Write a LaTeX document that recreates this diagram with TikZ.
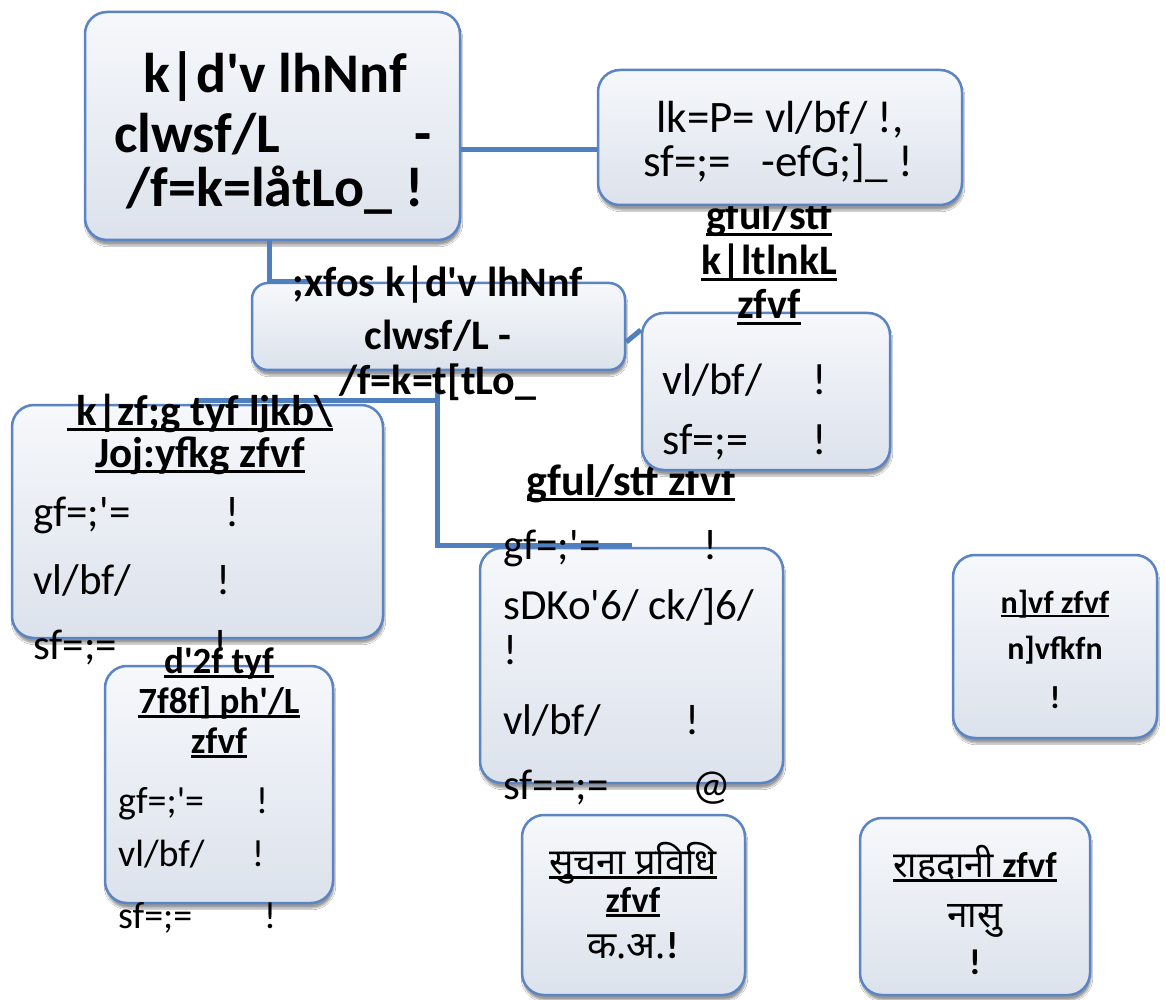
\documentclass[tikz,border=0pt]{standalone}
\usepackage{fontspec}
\newfontfamily\cf{Carlito}
\newfontfamily\deva[Script=Devanagari]{Noto Sans}
\usetikzlibrary{shadows.blur}
\definecolor{bord}{HTML}{5B84C4}
\definecolor{conncol}{HTML}{4F7FBE}
\definecolor{ftop}{HTML}{F6F8FB}
\definecolor{fbot}{HTML}{DCE2EC}
\newcommand\uln[1]{\setbox0\hbox{#1}\rlap{\rule[-0.14em]{\wd0}{0.08em}}\box0}
\tikzset{
  orgbox/.style={draw=bord, line width=2.5pt, rounded corners=22pt,
    top color=ftop, bottom color=fbot, inner sep=0pt,
    blur shadow={shadow xshift=1pt, shadow yshift=-5pt, shadow blur steps=6, shadow opacity=40}},
  conn/.style={draw=conncol, line width=5pt},
  hb/.style={font=\cf\bfseries\fontsize{#1}{#1}\selectfont, inner sep=0pt, anchor=base},
  btc/.style={font=\cf\fontsize{#1}{#1}\selectfont, inner sep=0pt, anchor=base},
  btl/.style={font=\cf\fontsize{#1}{#1}\selectfont, inner sep=0pt, anchor=base west},
}
\begin{document}
\begin{tikzpicture}[x=1pt,y=-1pt]
\fill[white] (0,0) rectangle (1165,1000);
\useasboundingbox (0,0) rectangle (1165,1000);
% boxes (z-order as in the reference)
\node[orgbox, minimum width=375pt, minimum height=228pt] (main) at (272.5,126) {};
\node[orgbox, minimum width=373pt, minimum height=87pt, rounded corners=16pt] (sec) at (438.5,326.5) {};
\node[orgbox, minimum width=371pt, minimum height=233pt] (left) at (197.5,521.5) {};
\node[orgbox, minimum width=228pt, minimum height=237pt] (b7) at (219,784.5) {};
\node[orgbox, minimum width=303pt, minimum height=235pt] (b6) at (631.5,665.5) {};
\node[hb=44] (g1) at (631,495) {\uln{gful/stf zfvf}};
\node[orgbox, minimum width=248pt, minimum height=157pt] (b4) at (766,391.5) {};
\node[hb=42] (p1) at (769,230) {\uln{gful/stf}};
\node[hb=42] (p2) at (769,275) {\uln{k|ltlnkL}};
\node[hb=42] (p3) at (769,319) {\uln{zfvf}};
\node[orgbox, minimum width=364pt, minimum height=135pt] (tr) at (780,137.5) {};
\node[orgbox, minimum width=223pt, minimum height=180pt] (b8) at (633.5,905) {};
\node[orgbox, minimum width=204pt, minimum height=183pt] (b9) at (1055,646.5) {};
\node[orgbox, minimum width=230pt, minimum height=177pt] (b10) at (975,906.5) {};
% helper coordinates
\coordinate (ya) at (0,150);
\coordinate (xa) at (269,0);
\coordinate (xb) at (310,0);
\coordinate (yb) at (0,342);
\coordinate (yc) at (0,330);
\coordinate (yd) at (0,545);
\coordinate (j) at (437,400);
% connectors
\draw[conn] (main.east |- ya) -- (tr.west |- ya);
\draw[conn] (main.south -| xa) |- (sec.north -| xb);
\draw[conn] (sec.east |- yb) -- (b4.west |- yc);
\draw[conn] (sec.south -| j) -- (j) -- (left.north |- j);
\draw[conn] (j) |- (b6.north |- yd);
% main text
\node[hb=56] (m1) at (275,93) {k|d'v lhNnf};
\node[hb=56] (m2) at (273,153) {\makebox[318pt]{clwsf/L\hfill-}};
\node[hb=56] (m3) at (275,207) {/f=k=låtLo\_ !};
% top right
\node[btc=45] (t1) at (780,133) {lk=P= vl/bf/ !,};
\node[btc=45] (t2) at (778,177) {sf=;=\ \ \ -efG;]\_ !};
% second
\node[hb=42] (s1) at (438,297) {;xfos k|d'v lhNnf};
\node[hb=42] (s2) at (438,349) {clwsf/L -};
\node[hb=42] (s3) at (438,394) {/f=k=t[tLo\_};
% b4 body
\node[btl=44] (p4) at (662,394) {vl/bf/};
\node[btc=44] (p5) at (820,394) {!};
\node[btl=44] (p6) at (662,454) {sf=;=};
\node[btc=44] (p7) at (820,454) {!};
% left
\node[hb=43] (l1) at (200,425) {\uln{\ k|zf;g tyf ljkb\textbackslash}};
\node[hb=43] (l2) at (200,467) {\uln{Joj:yfkg zfvf}};
\node[btl=43] (l3) at (33,526) {gf=;'=};
\node[btc=43] (l4) at (233,526) {!};
\node[btl=43] (l5) at (33,594) {vl/bf/};
\node[btc=43] (l6) at (223,594) {!};
\node[btl=43] (l7) at (33,659) {sf=;=};
\node[btc=43] (l8) at (220,659) {!};
% b6 body
\node[btl=43] (g2) at (503,559) {gf=;'=};
\node[btc=43] (g3) at (710,559) {!};
\node[btl=43] (g4) at (503,619) {sDKo'6/ ck/]6/};
\node[btl=43] (g5) at (503,664) {!};
\node[btl=43] (g6) at (503,734) {vl/bf/};
\node[btc=43] (g7) at (692,734) {!};
\node[btl=43] (g8) at (503,799) {sf==;=};
\node[btc=43] (g9) at (712,799) {@};
% b7
\node[hb=37] (d1) at (219,673) {\uln{d'2f tyf}};
\node[hb=37] (d2) at (219,713) {\uln{7f8f] ph'/L}};
\node[hb=37] (d3) at (219,753) {\uln{zfvf}};
\node[btl=38] (d4) at (118,813) {gf=;'=};
\node[btc=38] (d5) at (262,813) {!};
\node[btl=38] (d6) at (118,866) {vl/bf/};
\node[btc=38] (d7) at (258,866) {!};
\node[btl=38] (d8) at (118,928) {sf=;=};
\node[btc=38] (d9) at (270,928) {!};
% b8
\node[hb=36] (i1) at (633,874) {\uln{\deva सुचना प्रविधि}};
\node[hb=36] (i2) at (633,912) {\uln{zfvf}};
\node[hb=38] (i3) at (633,958) {{\deva क.अ.}!};
% b9
\node[hb=32] (n1) at (1055,613) {\uln{n]vf zfvf}};
\node[hb=32] (n2) at (1055,659) {n]vfkfn};
\node[hb=32] (n3) at (1055,708) {!};
% b10
\node[hb=36] (r1) at (975,877) {\uln{{\deva राहदानी} zfvf}};
\node[hb=37] (r2) at (975,927) {{\deva नासु}};
\node[hb=36] (r3) at (975,974) {!};
\end{tikzpicture}
\end{document}
